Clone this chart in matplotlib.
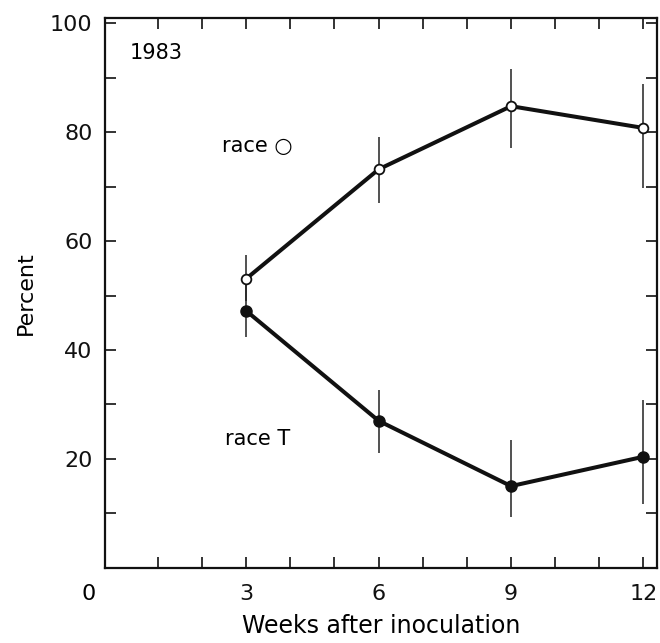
import matplotlib
matplotlib.use("Agg")
import matplotlib.pyplot as plt
from matplotlib.ticker import MultipleLocator, FixedLocator

# weeks after inoculation
weeks = [3, 6, 9, 12]

# race O (open circles)
race_o = [53.1, 73.2, 84.8, 80.8]
race_o_lo = [4.0, 6.1, 7.7, 11.1]
race_o_hi = [4.3, 5.9, 6.8, 8.1]

# race T (filled circles)
race_t = [47.2, 27.0, 15.0, 20.4]
race_t_lo = [4.8, 5.9, 5.7, 8.7]
race_t_hi = [4.8, 5.7, 8.5, 10.4]

plt.rcParams["font.family"] = ["DejaVu Sans"]

fig = plt.figure(figsize=(6.6, 6.43), dpi=100)
ax = fig.add_axes([0.159, 0.117, 0.836, 0.855])

ax.errorbar(weeks, race_o, yerr=[race_o_lo, race_o_hi], fmt="none",
            ecolor="#222222", elinewidth=1.1, capsize=0, zorder=2)
ax.errorbar(weeks, race_t, yerr=[race_t_lo, race_t_hi], fmt="none",
            ecolor="#222222", elinewidth=1.1, capsize=0, zorder=2)
ax.plot(weeks, race_o, color="#111111", lw=2.9, zorder=3)
ax.plot(weeks, race_t, color="#111111", lw=2.9, zorder=3)
ax.plot(weeks, race_o, "o", ms=7, mfc="white", mec="#111111", mew=1.3, zorder=4)
ax.plot(weeks, race_t, "o", ms=8, mfc="#111111", mec="#111111", zorder=4)

ax.set_xlim(-0.2, 12.3)
ax.set_ylim(0, 101)

ax.set_xticks(weeks)
ax.set_xticklabels([str(w) for w in weeks])
ax.xaxis.set_minor_locator(FixedLocator([1, 2, 4, 5, 7, 8, 10, 11]))
ax.set_yticks([20, 40, 60, 80, 100])
ax.yaxis.set_minor_locator(MultipleLocator(10))

ax.tick_params(which="both", direction="in", top=True, right=True,
               length=8, width=1.2, colors="#111111", labelsize=16)
ax.tick_params(axis="x", pad=12)
ax.tick_params(axis="y", pad=9)
for s in ax.spines.values():
    s.set_linewidth(1.6)
    s.set_color("#111111")

ax.text(-0.57, -4.9, "0", fontsize=16, ha="center", va="center", clip_on=False)

ax.set_xlabel("Weeks after inoculation", fontsize=17, labelpad=7)
ax.set_ylabel("Percent", fontsize=16, labelpad=10)

ax.text(0.95, 94.6, "1983", fontsize=15, ha="center", va="center")
ax.text(2.45, 77.4, "race \u25cb", fontsize=15, ha="left", va="center")
ax.text(2.52, 23.7, "race T", fontsize=15, ha="left", va="center")

fig.savefig("out.png", dpi=100)
